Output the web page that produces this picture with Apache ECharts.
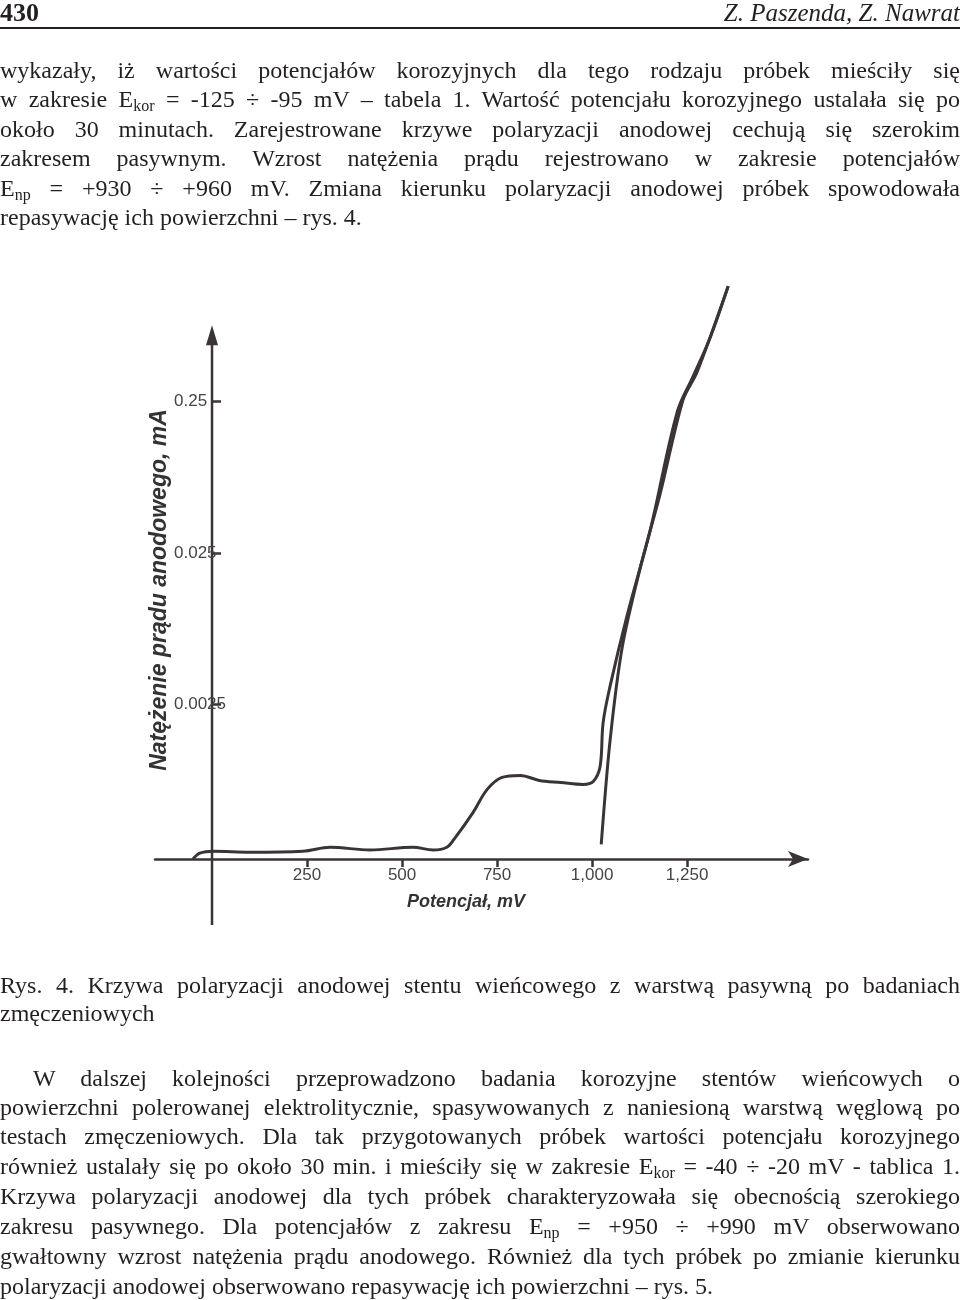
<!DOCTYPE html>
<html><head><meta charset="utf-8">
<script src="https://cdn.jsdelivr.net/npm/echarts@6/dist/echarts.min.js"></script>
<style>
body{margin:0;background:#fff;}
#page{position:relative;width:960px;height:1300px;overflow:hidden;font-family:"Liberation Serif","Times New Roman",serif;color:#231f20;}
#chart{position:absolute;left:0;top:0;width:960px;height:1300px;}
.l{position:absolute;left:0;width:960px;height:30px;line-height:30px;font-size:24px;white-space:nowrap;z-index:2;}
.j{text-align:justify;text-align-last:justify;white-space:normal;}
sub{font-size:16px;vertical-align:-4px;line-height:0;}
</style></head><body>
<div id="page">
<div id="chart"></div>
<div class="l" style="top:-2px;font-size:26px;font-weight:bold;">430</div>
<div class="l" style="top:-2px;font-size:25px;font-style:italic;text-align:right;">Z. Paszenda, Z. Nawrat</div>
<div style="position:absolute;left:0;top:27px;width:960px;height:2px;background:#231f20;"></div>
<div class="l j" style="top:55px">wykazały, iż wartości potencjałów korozyjnych dla tego rodzaju próbek mieściły się</div>
<div class="l j" style="top:84px">w zakresie E<sub>kor</sub> = -125 ÷ -95 mV – tabela 1. Wartość potencjału korozyjnego ustalała się po</div>
<div class="l j" style="top:114px">około 30 minutach. Zarejestrowane krzywe polaryzacji anodowej cechują się szerokim</div>
<div class="l j" style="top:143px">zakresem pasywnym. Wzrost natężenia prądu rejestrowano w zakresie potencjałów</div>
<div class="l j" style="top:173px">E<sub>np</sub> = +930 ÷ +960 mV. Zmiana kierunku polaryzacji anodowej próbek spowodowała</div>
<div class="l" style="top:202px">repasywację ich powierzchni – rys. 4.</div>
<div class="l j" style="top:970px">Rys. 4. Krzywa polaryzacji anodowej stentu wieńcowego z warstwą pasywną po badaniach</div>
<div class="l" style="top:998px">zmęczeniowych</div>
<div class="l j" style="top:1063px;left:33px;width:927px">W dalszej kolejności przeprowadzono badania korozyjne stentów wieńcowych o</div>
<div class="l j" style="top:1092px">powierzchni polerowanej elektrolitycznie, spasywowanych z naniesioną warstwą węglową po</div>
<div class="l j" style="top:1121px">testach zmęczeniowych. Dla tak przygotowanych próbek wartości potencjału korozyjnego</div>
<div class="l j" style="top:1151px">również ustalały się po około 30 min. i mieściły się w zakresie E<sub>kor</sub> = -40 ÷ -20 mV - tablica 1.</div>
<div class="l j" style="top:1181px">Krzywa polaryzacji anodowej dla tych próbek charakteryzowała się obecnością szerokiego</div>
<div class="l j" style="top:1211px">zakresu pasywnego. Dla potencjałów z zakresu E<sub>np</sub> = +950 ÷ +990 mV obserwowano</div>
<div class="l j" style="top:1241px">gwałtowny wzrost natężenia prądu anodowego. Również dla tych próbek po zmianie kierunku</div>
<div class="l" style="top:1271px">polaryzacji anodowej obserwowano repasywację ich powierzchni – rys. 5.</div>
</div>
<script>
// forward (anodic) scan: potential mV, current mA
const fwdPotential = [-50,-32,3,100,239,311,416,529,582,618,637,687,724,763,811,861,918,976,1003,1021,1029,1047,1092,1153,1224,1266,1311,1358];
const fwdCurrent = [0.00024,0.000262,0.00027,0.000266,0.00027,0.000287,0.000275,0.000287,0.000275,0.000287,0.000324,0.000487,0.00069,0.000828,0.000853,0.000791,0.000767,0.000744,0.000778,0.000975,0.0019,0.00328,0.00963,0.0354,0.212,0.365,0.659,1.43];
// reverse scan
const revPotential = [1358,1276,1239,1179,1126,1079,1047,1024];
const revCurrent = [1.43,0.388,0.254,0.0611,0.0196,0.00593,0.00143,0.0003];
const xTicks = [250,500,750,1000,1250];
const yTicks = [0.0025,0.025,0.25];
const xName = 'Potencjał, mV';
const yName = 'Natężenie prądu anodowego, mA';

const ink = '#3b3435';
const chart = echarts.init(document.getElementById('chart'));
chart.setOption({
  animation:false,
  grid:{left:155,right:152,top:283,bottom:441},
  xAxis:{type:'value',min:-150,max:1568,
    axisLine:{lineStyle:{color:ink,width:2.5},symbol:['none','arrow'],symbolSize:[12,20]},
    axisTick:{customValues:xTicks,length:8,lineStyle:{color:ink,width:2.5}},
    axisLabel:{customValues:xTicks,margin:8,color:'#444',fontSize:17,fontFamily:'Liberation Sans, Arial'},
    splitLine:{show:false}},
  yAxis:{type:'log',logBase:10,min:0.00024,max:1.5,
    axisLine:{show:false},
    axisTick:{customValues:yTicks,inside:true,length:9,lineStyle:{color:ink,width:2.5}},
    axisLabel:{customValues:yTicks,inside:true,margin:19,color:'#444',fontSize:17,fontFamily:'Liberation Sans, Arial',
      formatter:v=>String(v)},
    splitLine:{show:false}},
  series:[
    {type:'line',data:fwdPotential.map((p,i)=>[p,fwdCurrent[i]]),smooth:0.35,showSymbol:false,clip:false,
     lineStyle:{color:ink,width:3}},
    {type:'line',data:revPotential.map((p,i)=>[p,revCurrent[i]]),smooth:0.3,showSymbol:false,clip:false,
     lineStyle:{color:ink,width:3}}
  ]
});
const pTop = chart.convertToPixel({xAxisIndex:0,yAxisIndex:0},[0,0.7]);
const pBot = chart.convertToPixel({xAxisIndex:0,yAxisIndex:0},[0,0.00024]);
const x0 = pTop[0];
chart.setOption({graphic:[
  {type:'line',shape:{x1:x0,y1:pTop[1]+8,x2:x0,y2:pBot[1]+66},style:{stroke:ink,lineWidth:2.5}},
  {type:'polygon',shape:{points:[[x0,pTop[1]-8],[x0-6,pTop[1]+12],[x0+6,pTop[1]+12]]},style:{fill:ink}},
  {type:'text',left:407,top:893,style:{text:xName,font:'italic bold 18px "Liberation Sans", Arial',fill:'#333'}},
  {type:'text',x:160,y:590,rotation:Math.PI/2,style:{text:yName,align:'center',verticalAlign:'middle',
     font:'italic bold 23px "Liberation Sans Narrow", "Liberation Sans", Arial',fill:'#333'}}
]});
</script>
</body></html>
